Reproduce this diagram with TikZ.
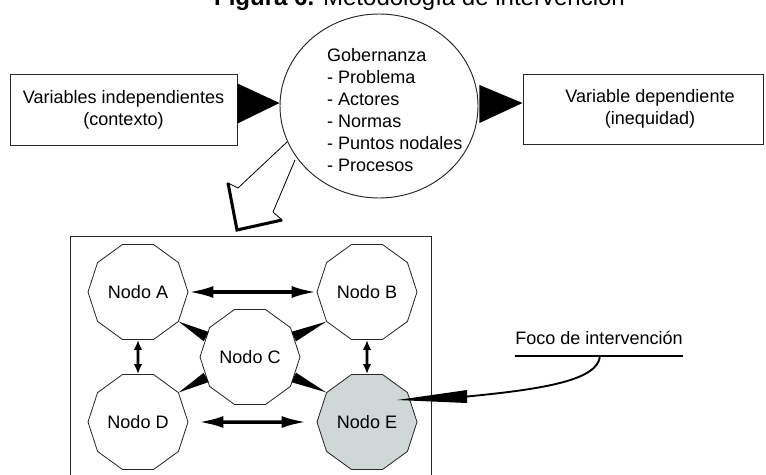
\documentclass[tikz,border=0pt]{standalone}
\usepackage{fontspec}
\setmainfont{Liberation Sans}
\usepackage{xcolor}
\usepackage{tikz}
\usetikzlibrary{positioning,shapes.geometric,arrows.meta,calc}
\definecolor{nodogris}{RGB}{207,215,215}

\begin{document}
\begin{tikzpicture}[x=0.03cm, y=-0.03cm,
		every node/.style={font=\fontsize{15.4}{18.8}\selectfont},
		box/.style={rectangle, draw=black!85, line width=0.8pt, align=center},
		nodo/.style={regular polygon, regular polygon sides=10, draw=black!85, fill=white, line width=0.7pt, minimum size=3cm, inner sep=0pt},
		dblarrow/.style={{Latex[length=0.75cm,width=0.36cm]}-{Latex[length=0.75cm,width=0.36cm]}, line width=3pt},
		vertarrow/.style={{Latex[length=0.3cm,width=0.26cm]}-{Latex[length=0.3cm,width=0.26cm]}, line width=2.4pt}]
		\useasboundingbox (0,0) rectangle (766,474);
		
		% Nodes
		\node [anchor=base west, font=\fontsize{20.5}{24}\selectfont] (titulo) at (210,5) {\textbf{Figura 6.} Metodología de intervención};
		\node [box, minimum width=6.81cm, minimum height=2.13cm] (indep) at (123.5,109.5) {Variables independientes\\(contexto)};
		\node [box, minimum width=7.2cm, minimum height=2.1cm] (dep) at (643,109) {\hspace*{12pt}Variable dependiente\\\hspace*{12pt}(inequidad)};
		
		% hollow arrow into the network
		\draw [fill=white, line width=0.7pt] (295,160) -- (273,212) -- (282,220) -- (237,230) -- (228,183) -- (238,188) -- (287,142);
		\draw [line width=2.6pt, line join=miter] (228,183) -- (237,230) -- (282,220);
		
		\node [ellipse, draw=black!85, fill=white, line width=0.8pt, minimum width=5.94cm, minimum height=5.52cm] (gobernanza) at (379,106) {};
		\node [anchor=west, align=left] (temas) at (323,110) {Gobernanza\\- Problema\\- Actores\\- Normas\\- Puntos nodales\\- Procesos};
		
		\node [box, minimum width=10.83cm, minimum height=7.92cm] (red) at (250.5,368) {};
		\node [nodo] (a) at (138,292) {Nodo A};
		\node [nodo] (b) at (367,292) {Nodo B};
		\node [nodo] (c) at (250,357) {Nodo C};
		\node [nodo] (d) at (138,422) {Nodo D};
		\node [nodo, fill=nodogris] (e) at (367,422) {Nodo E};
		\node [anchor=base, inner xsep=0pt] (foco) at (599,344) {Foco de intervención};
		
		% Arrows
		\fill ($(indep.east)+(0,-26)$) -- ($(indep.east)+(0,14)$) -- ($(gobernanza.west)+(0,-3)$) -- cycle;
		\fill ($(gobernanza.east)+(1,-21)$) -- ($(gobernanza.east)+(1,17)$) -- ($(dep.west)+(0,-6)$) -- cycle;
		
		\draw [dblarrow] (a) -- (b);
		\draw [dblarrow, shorten <=0.3cm, shorten >=0.3cm] (d) -- (e);
		\draw [vertarrow] (a) -- (d);
		\draw [vertarrow] (b) -- (e);
		
		\fill (a.-36) -- ($(c.155)!4.5pt!90:(a.-36)$) -- ($(c.155)!4.5pt!-90:(a.-36)$) -- cycle;
		\fill (b.-144) -- ($(c.25)!4.5pt!90:(b.-144)$) -- ($(c.25)!4.5pt!-90:(b.-144)$) -- cycle;
		\fill (d.36) -- ($(c.205)!4.5pt!90:(d.36)$) -- ($(c.205)!4.5pt!-90:(d.36)$) -- cycle;
		\fill (e.144) -- ($(c.-25)!4.5pt!90:(e.144)$) -- ($(c.-25)!4.5pt!-90:(e.144)$) -- cycle;
		
		\draw [line width=0.9pt] ($(foco.base west)+(0,12)$) -- ($(foco.base east)+(0,12)$);
		\coordinate (focobase) at (467,396.5);
		\coordinate (focotip) at ($(e)+(30,-22)$);
		\draw [line width=1.6pt] ($(foco.base)+(1,12)$) .. controls (598,380) and (545,389) .. (focobase);
		\fill ($(focobase)+(0,-6.5)$) -- ($(focobase)+(0,6.5)$) -- (focotip) -- cycle;
	\end{tikzpicture}
\end{document}
